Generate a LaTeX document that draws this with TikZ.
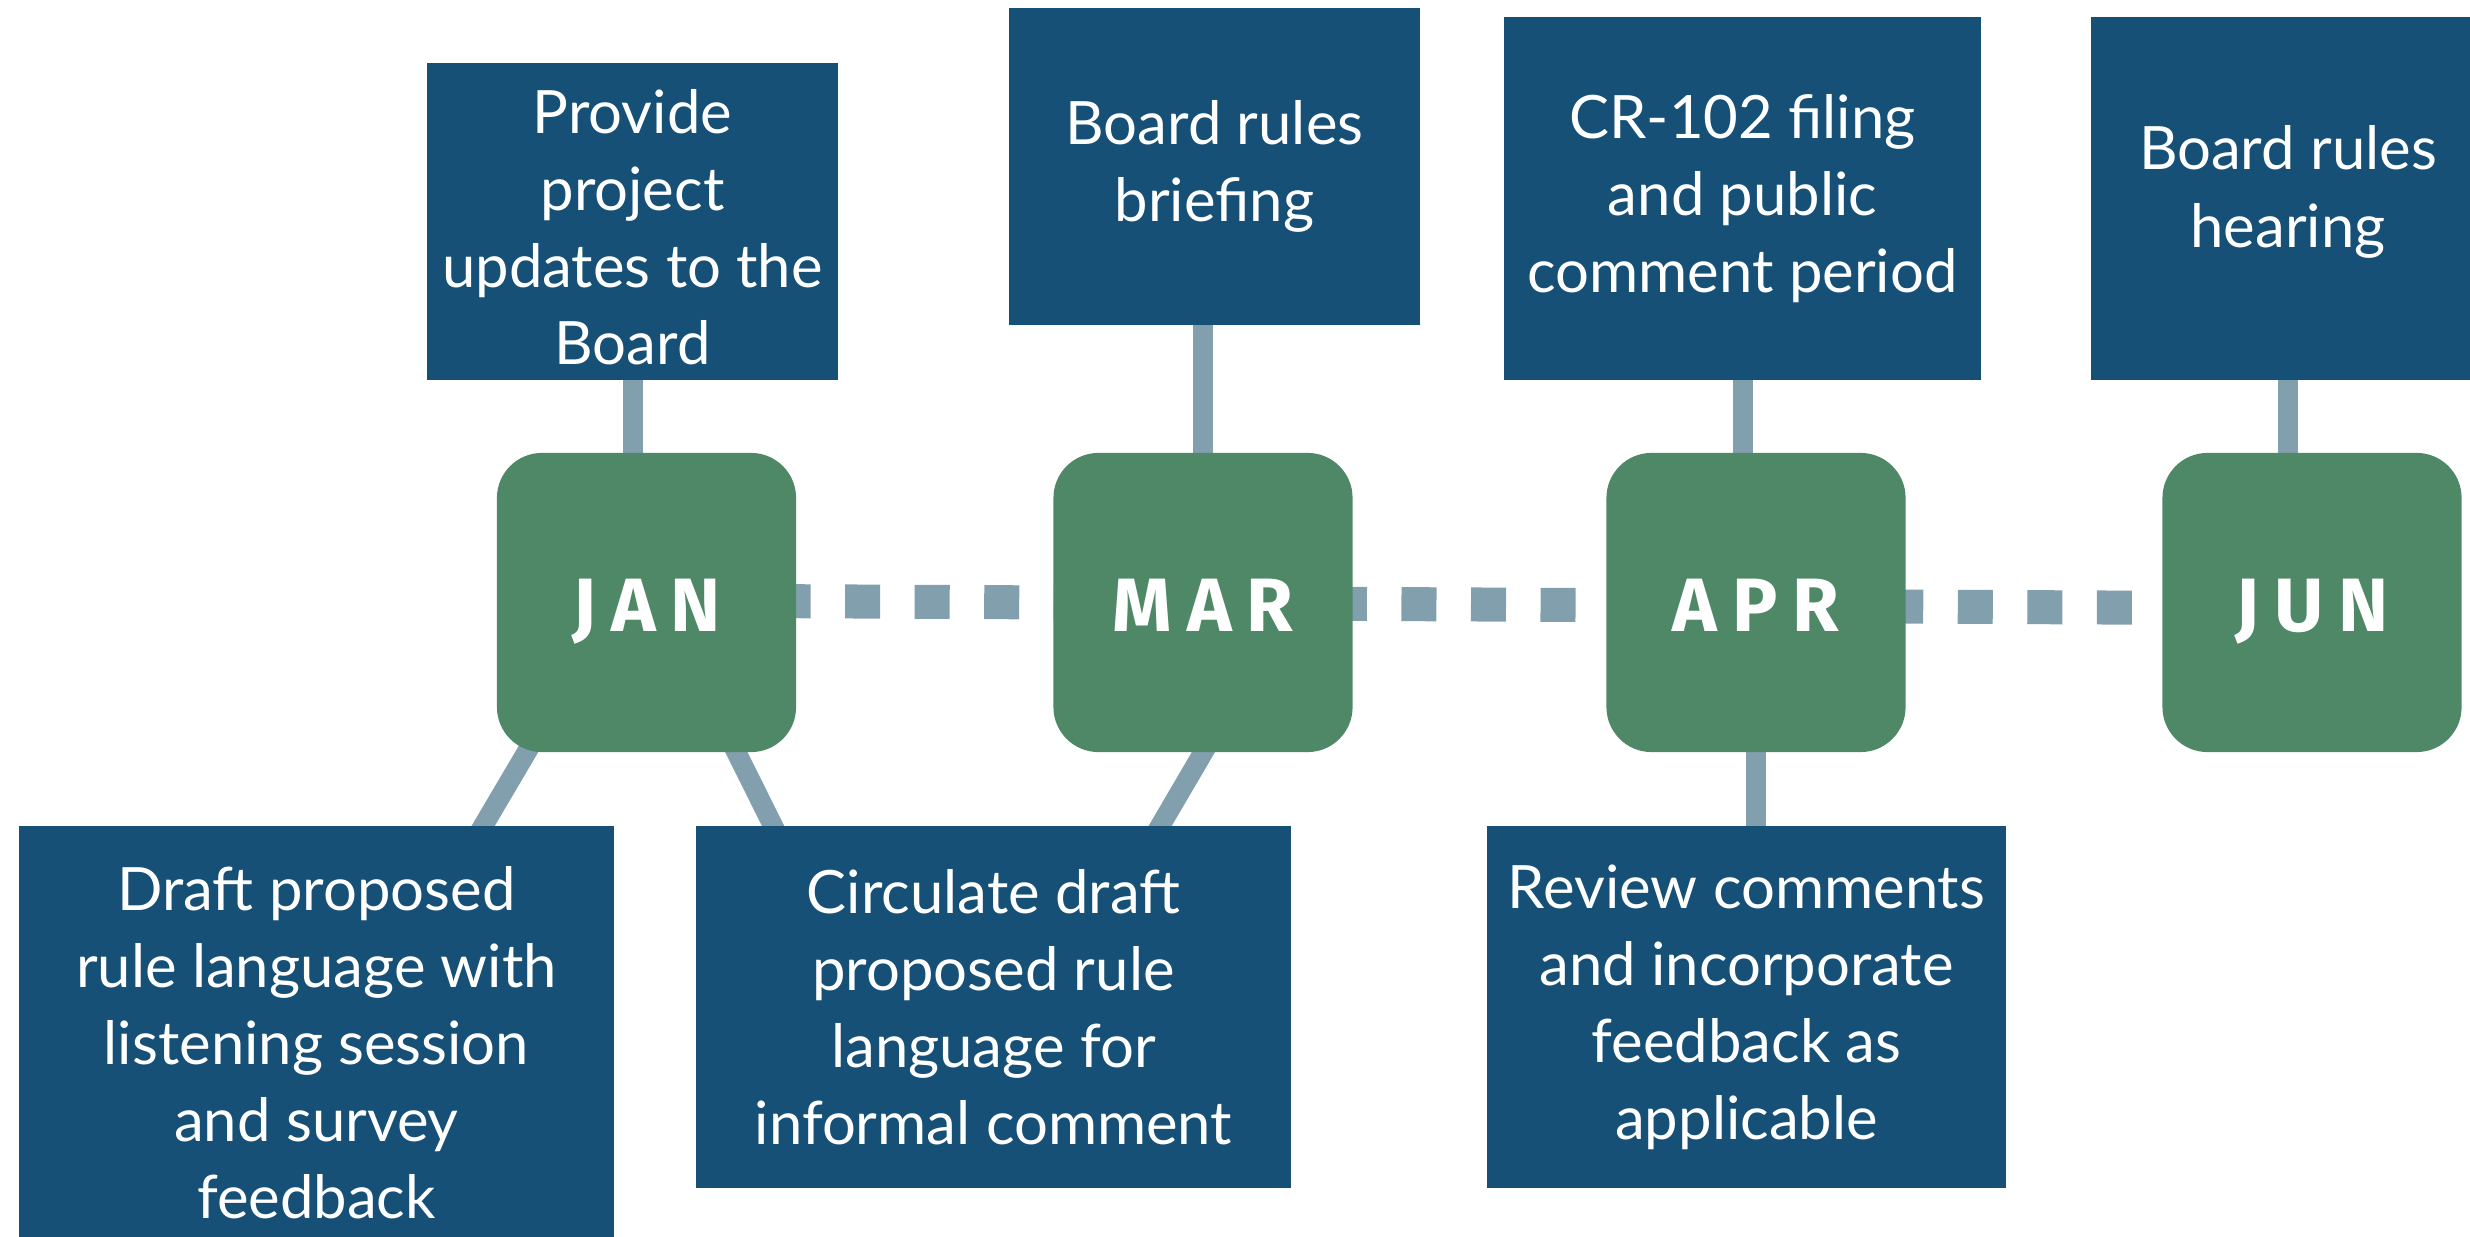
\documentclass[tikz,border=0pt]{standalone}
\usepackage{fontspec}
\setmainfont{Lato}
\newfontfamily\monthfont[LetterSpace=20]{Fira Sans}
\usetikzlibrary{positioning, calc, backgrounds}
\definecolor{boxblue}{HTML}{165076}
\definecolor{monthgreen}{HTML}{4F8866}
\definecolor{linkgray}{HTML}{829FAE}

\begin{document}
\begin{tikzpicture}[x=0.01cm, y=-0.01cm,
    task/.style={rectangle, fill=boxblue, text=white, align=center, inner sep=0pt,
        font=\fontsize{17}{21.9}\selectfont},
    month/.style={rectangle, rounded corners=0.45cm, fill=monthgreen, text=white,
        minimum width=2.99cm, minimum height=2.99cm, inner sep=0pt,
        text height=0.57cm, text depth=0cm,
        font=\monthfont\bfseries\fontsize{21.5}{24}\selectfont},
    link/.style={draw=linkgray, line width=0.2cm, shorten <=-6pt, shorten >=-6pt},
    dots/.style={draw=linkgray, line width=0.34cm, dash pattern=on 0.35cm off 0.345cm, dash phase=0.1cm}]
    \clip (0,0) rectangle (2470,1237);
    \node[task, minimum width=4.11cm, minimum height=3.17cm] (upd) at (632.5,221.5) {\rule{0pt}{0.55cm}Provide\\project\\updates to the\\Board};
    \node[task, minimum width=4.11cm, minimum height=3.17cm] (brief) at (1214.5,166.5) {Board rules\\briefing};
    \node[task, minimum width=4.77cm, minimum height=3.63cm] (filing) at (1742.5,198.5) {CR-102 filing\\and public\\comment period};
    \node[task, minimum width=3.94cm, minimum height=3.63cm] (hearing) at (2288,198.5) {Board rules\\hearing\rule[-0.24cm]{0pt}{0pt}};
    \node[month] (jan) at (646.5,602.5) {JAN};
    \node[month] (mar) at (1203,602.5) {MAR};
    \node[month] (apr) at (1756,602.5) {APR};
    \node[month] (jun) at (2312,602.5) {JUN};
    \node[task, minimum width=5.95cm, minimum height=4.34cm] (draft) at (316.5,1043) {Draft proposed\\rule language with\\listening session\\and survey\\feedback};
    \node[task, minimum width=5.95cm, minimum height=3.62cm] (circ) at (993.5,1007) {Circulate draft\\proposed rule\\language for\\informal comment};
    \node[task, minimum width=5.19cm, minimum height=3.62cm] (review) at (1746.5,1007) {Review comments\\and incorporate\\feedback as\\applicable};
    \begin{scope}[on background layer]
        \draw[dots] ($(jan.center)+(0,-2)$) -- ($(jun.center)+(0,6)$);
        \draw[link] (upd.south) -- (upd.south |- jan.north);
        \draw[link] (mar.north |- brief.south) -- (mar.north);
        \draw[link] (filing.south) -- (filing.south |- apr.north);
        \draw[link] (hearing.south) -- (hearing.south |- jun.north);
        \draw[link] ($(jan.south west)!0.1!(jan.south east)$) -- ($(draft.north west)!0.78!(draft.north east)$);
        \draw[link] ($(jan.south west)!0.8!(jan.south east)$) -- ($(circ.north west)!0.13!(circ.north east)$);
        \draw[link] (mar.south) -- ($(circ.north west)!0.78!(circ.north east)$);
        \draw[link] (apr.south) -- (apr.south |- review.north);
    \end{scope}
\end{tikzpicture}
\end{document}
